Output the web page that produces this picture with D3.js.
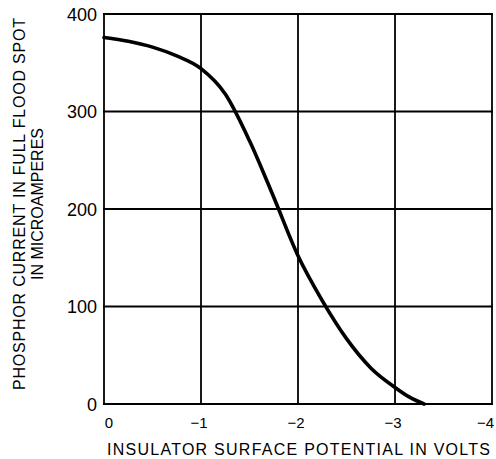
<html>
<head>
<style>
  body { margin: 0; background: #fff; }
  text { font-family: "Liberation Sans", Arial, sans-serif; fill: #000; }
  .grid line { stroke: #000; stroke-width: 1.8px; }
  .curve { fill: none; stroke: #000; stroke-width: 3.6px; stroke-linecap: round; }
</style>
</head>
<body>
<svg width="496" height="459"></svg>
<script src="https://d3js.org/d3.v7.min.js"></script>
<script>
// volts (insulator surface potential) and phosphor current (microamperes)
var volts   = [0, -0.25, -0.5, -0.75, -1, -1.25, -1.5, -1.75, -2, -2.25, -2.5, -2.75, -3, -3.15, -3.3];
var current = [376, 372, 366, 357, 344, 318, 270, 212, 152, 106, 67, 37, 17, 7, 0];
var xTicks = [0, -1, -2, -3, -4];
var yTicks = [0, 100, 200, 300, 400];
var xTitle = "INSULATOR SURFACE POTENTIAL IN VOLTS";
var yTitle = ["PHOSPHOR CURRENT IN FULL FLOOD SPOT", "IN MICROAMPERES"];

var svg = d3.select("svg");

var x = d3.scaleLinear().domain([0, -4]).range([104, 492]);
var y = d3.scaleLinear().domain([0, 400]).range([404, 14]);

var grid = svg.append("g").attr("class", "grid");
grid.selectAll(".v").data(xTicks).enter().append("line")
    .attr("x1", d => x(d)).attr("x2", d => x(d))
    .attr("y1", y(0)).attr("y2", y(400));
grid.selectAll(".h").data(yTicks).enter().append("line")
    .attr("x1", x(0) - 1).attr("x2", x(-4) + 1)
    .attr("y1", d => y(d)).attr("y2", d => y(d));

// tick labels
svg.selectAll(".xt").data(xTicks).enter().append("text")
    .attr("x", (d, i) => i == xTicks.length - 1 ? x(d) + 2 : x(d) + (d == 0 ? 5 : -2))
    .attr("y", 428)
    .attr("text-anchor", (d, i) => i == xTicks.length - 1 ? "end" : "middle")
    .style("font-size", "15px")
    .text(d => d == 0 ? "0" : "\u2212" + Math.abs(d));

svg.selectAll(".yt").data(yTicks).enter().append("text")
    .attr("x", 97)
    .attr("y", d => y(d) + 6.5)
    .attr("text-anchor", "end")
    .style("font-size", "18px")
    .text(d => d);

// curve
var pts = volts.map((v, i) => [v, current[i]]);
var line = d3.line()
    .x(d => x(d[0])).y(d => y(d[1]))
    .curve(d3.curveMonotoneX);
svg.append("path").attr("class", "curve").attr("d", line(pts));

// titles
svg.append("text")
    .attr("x", 107).attr("y", 455)
    .attr("textLength", 383).attr("lengthAdjust", "spacing")
    .style("font-size", "16px")
    .text(xTitle);

svg.selectAll(".ytitle").data(yTitle).enter().append("text")
    .attr("transform", (d, i) => "translate(" + (i == 0 ? 25 : 43) + "," + 204 + ") rotate(-90)")
    .attr("text-anchor", "middle")
    .attr("textLength", (d, i) => i == 0 ? 372 : null)
    .attr("lengthAdjust", "spacing")
    .style("font-size", "16px")
    .text(d => d);
</script>
</body>
</html>
